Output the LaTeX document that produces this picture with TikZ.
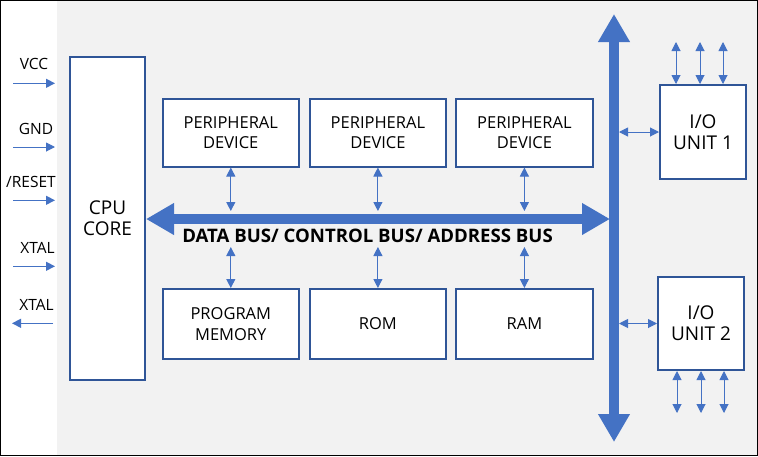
\documentclass[tikz,border=0pt]{standalone}
\usepackage{fontspec}
\setmainfont{Open Sans}
\usetikzlibrary{arrows.meta}
\definecolor{busblue}{HTML}{4472C4}
\definecolor{boxblue}{HTML}{2F5597}
\definecolor{bggray}{HTML}{F2F2F2}
\begin{document}
\begin{tikzpicture}[x=1pt,y=-1pt,
  box/.style={draw=boxblue, line width=2pt, fill=white, inner sep=0pt, align=center,
    font=\fontsize{16.5}{20.5}\selectfont},
  bigtext/.style={font=\fontsize{19}{21}\selectfont},
  lbl/.style={font=\fontsize{15.5}{18}\selectfont, inner sep=0pt},
  sig/.style={busblue, line width=1pt, -{Triangle[width=9pt,length=9pt]}},
  bidir/.style={busblue, line width=1pt, {Triangle[width=9pt,length=9pt]}-{Triangle[width=9pt,length=9pt]}},
  bus/.style={busblue, line width=10pt, {Triangle[width=30pt,length=28pt]}-{Triangle[width=30pt,length=28pt]}}]
\fill[white] (0,0) rectangle (758,456);
\fill[bggray] (57,0) rectangle (758,456);
\draw[black, line width=1pt] (0.5,0.5) rectangle (757.5,455.5);
\useasboundingbox (0,0) rectangle (758,456);

% boxes
\node[box, bigtext, minimum width=75pt, minimum height=323pt] (cpu) at (107.5,218.5) {CPU\\CORE};
\node[box, minimum width=136pt, minimum height=68pt] (p1) at (230.8,132.5) {PERIPHERAL\\DEVICE};
\node[box, minimum width=136pt, minimum height=68pt] (p2) at (377.9,132.5) {PERIPHERAL\\DEVICE};
\node[box, minimum width=137pt, minimum height=68pt] (p3) at (524.4,132.5) {PERIPHERAL\\DEVICE};
\node[box, minimum width=136pt, minimum height=70pt] (pm) at (230.8,324) {PROGRAM\\MEMORY};
\node[box, minimum width=136pt, minimum height=70pt] (rom) at (377.9,324) {ROM};
\node[box, minimum width=137pt, minimum height=70pt] (ram) at (524.4,324) {RAM};
\node[box, bigtext, minimum width=86pt, minimum height=94pt] (io1) at (703,132) {I/O\\UNIT 1};
\node[box, bigtext, minimum width=86pt, minimum height=93pt] (io2) at (701,323.5) {I/O\\UNIT 2};

% bus coordinates
\coordinate (vtop) at (614,14);
\coordinate (vbot) at (614,442);
\coordinate (hend) at (610,219);
\coordinate (btop) at (0,211);
\coordinate (bbot) at (0,247);
\coordinate (vbus) at (619,0);

\draw[bus] (vbot) -- (vtop);
\draw[bus] (cpu.east |- hend) -- (hend);

\node[font=\bfseries\fontsize{18.6}{22}\selectfont, inner sep=0pt] (buslbl) at (367.5,236) {DATA BUS/ CONTROL BUS/ ADDRESS BUS};

% device connectors
\foreach \n in {p1,p2,p3} \draw[bidir] (\n.south) -- (\n.south |- btop);
\foreach \n in {pm,rom,ram} \draw[bidir] (\n.north) -- (\n.north |- bbot);

% I/O connectors
\draw[bidir] (vbus |- io1.west) -- (io1.west);
\draw[bidir] (vbus |- io2.west) -- (io2.west);
\coordinate (iotop) at (0,42);
\coordinate (iobot) at (0,413);
\foreach \x in {676,700,723} \draw[bidir] (\x,84) coordinate (a) -- (a |- iotop);
\foreach \x in {677,701,724} \draw[bidir] (\x,371) coordinate (b) -- (b |- iobot);

% left pins
\node[lbl] (vcc) at (34,63.5) {VCC};
\node[lbl] (gnd) at (36,128.5) {GND};
\node[lbl] (rst) at (31,181.5) {/RESET};
\node[lbl] (xt1) at (37.5,248) {XTAL};
\node[lbl] (xt2) at (36.5,304.5) {XTAL};
\coordinate (lin) at (13,0);
\coordinate (lout) at (55,0);
\draw[sig] (lin |- 0,83.3) -- (lout |- 0,83.3);
\draw[sig] (lin |- 0,147) -- (lout |- 0,147);
\draw[sig] (lin |- 0,200.3) -- (lout |- 0,200.3);
\draw[sig] (lin |- 0,266.3) -- (lout |- 0,266.3);
\draw[sig] (53,323.3) -- (12,323.3);
\end{tikzpicture}
\end{document}
